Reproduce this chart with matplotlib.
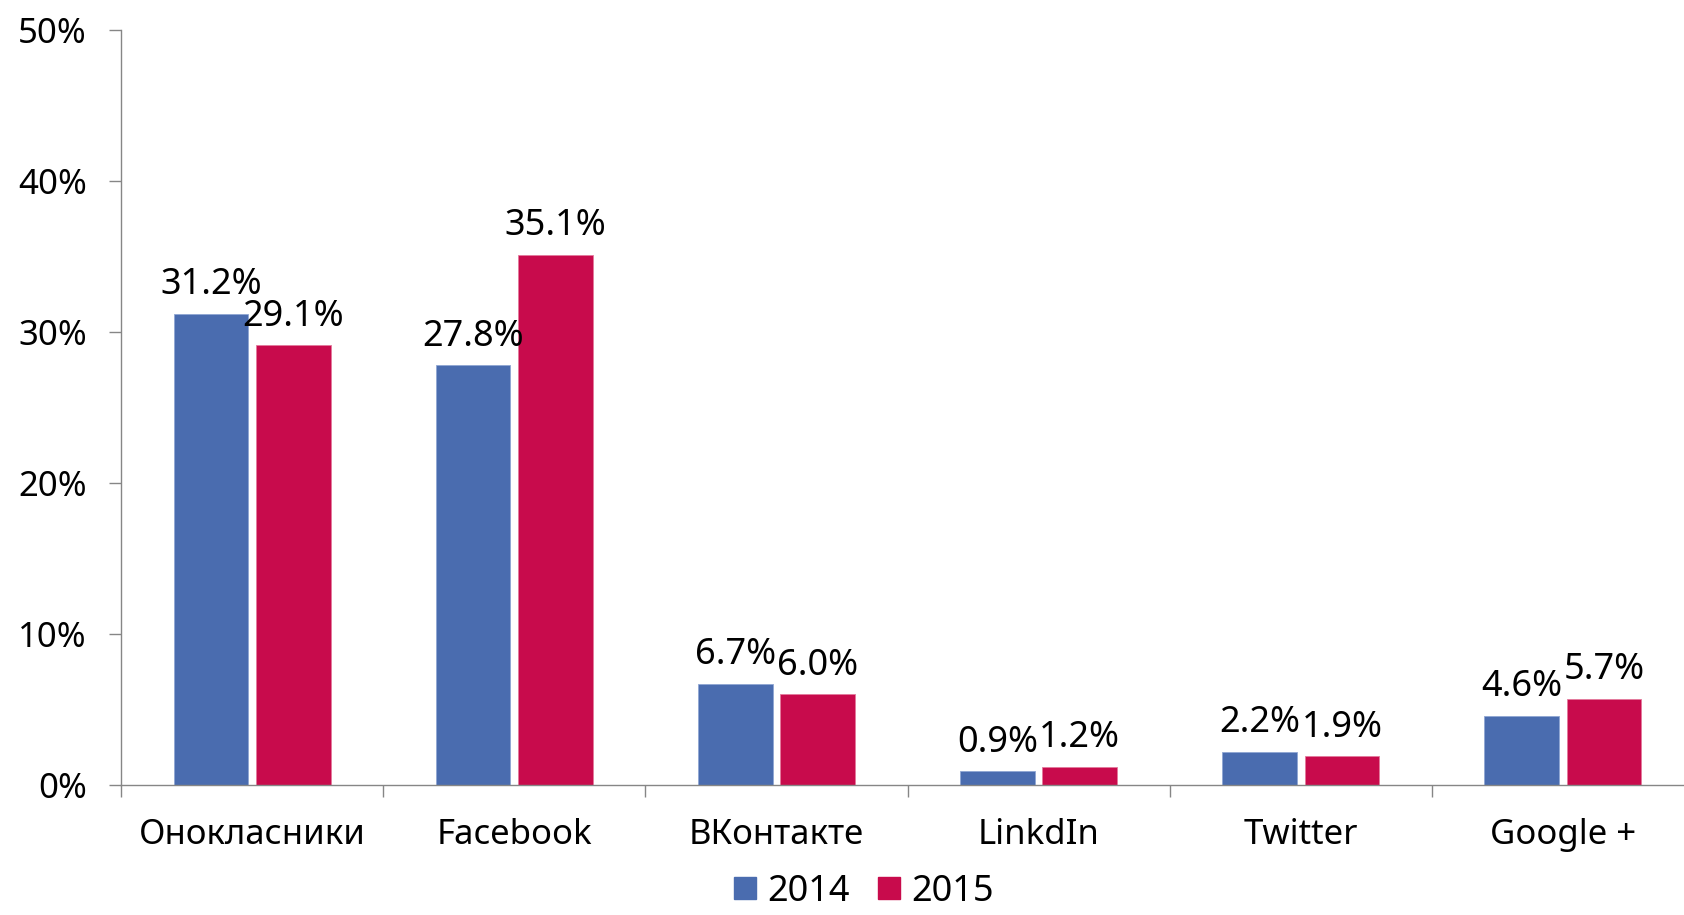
import numpy as np
import matplotlib
matplotlib.use("Agg")
from matplotlib import pyplot as plt
from matplotlib.patches import Patch

plt.rcParams['font.family'] = ['Noto Sans', 'DejaVu Sans']

categories = ["Онокласники", "Facebook", "ВКонтакте", "LinkdIn", "Twitter", "Google +"]
values_2014 = [31.2, 27.8, 6.7, 0.9, 2.2, 4.6]
values_2015 = [29.1, 35.1, 6.0, 1.2, 1.9, 5.7]
series_names = ["2014", "2015"]

blue = "#4A6CAF"
red = "#C80B4C"
grey = "#868686"

fig = plt.figure(figsize=(16.84, 9.15), dpi=100)
ax = fig.add_axes([0.0719, 0.142, 0.934, 0.8257])

x = np.arange(len(categories))
width = 0.285
offset = 0.157

bars_a = ax.bar(x - offset, values_2014, width, color=blue, edgecolor="#8FA6D3", linewidth=0.6)
bars_b = ax.bar(x + offset, values_2015, width, color=red, edgecolor="#E37A9C", linewidth=0.6)

for bars, vals in ((bars_a, values_2014), (bars_b, values_2015)):
    for b, v in zip(bars, vals):
        ax.annotate(f"{v:.1f}%", (b.get_x() + b.get_width() / 2, v),
                    xytext=(0, 14), textcoords="offset points",
                    ha="center", va="baseline", fontsize=26, color="black")

ax.set_xlim(-0.5, len(categories) - 0.5)
ax.set_ylim(0, 50)
ax.set_yticks(np.arange(0, 51, 10))
ax.set_yticklabels([f"{t}%" for t in range(0, 51, 10)])
ax.set_xticks(x)
ax.set_xticklabels(categories)
ax.set_xticks(np.arange(-0.5, len(categories), 1.0), minor=True)

ax.tick_params(axis="x", which="major", length=0, pad=24, labelsize=25)
ax.tick_params(axis="x", which="minor", length=8.6, width=1.0, color=grey)
ax.tick_params(axis="y", length=8.6, width=1.0, color=grey, pad=16, labelsize=25)

for side in ("top", "right"):
    ax.spines[side].set_visible(False)
for side in ("left", "bottom"):
    ax.spines[side].set_color(grey)
    ax.spines[side].set_linewidth(1.0)

handles = [Patch(color=blue), Patch(color=red)]
fig.legend(handles, series_names, loc="lower center", bbox_to_anchor=(0.513, -0.014),
           ncol=2, frameon=False, fontsize=26, handlelength=0.6, handleheight=0.6,
           handletextpad=0.3, columnspacing=0.8, borderpad=0)

fig.savefig("out.png", dpi=100)
